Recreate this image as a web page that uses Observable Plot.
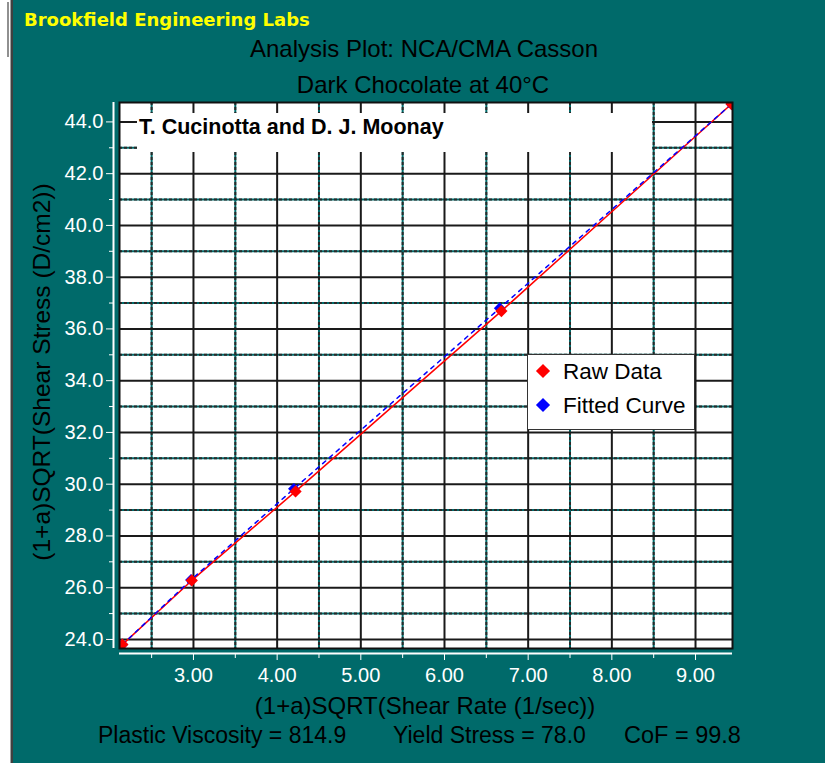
<!DOCTYPE html>
<html>
<head>
<meta charset="utf-8">
<script src="https://cdn.jsdelivr.net/npm/d3@7"></script>
<script src="https://cdn.jsdelivr.net/npm/@observablehq/plot@0.6"></script>
<style>
  html, body { margin: 0; padding: 0; background: #ffffff; }
  #wrap { position: relative; width: 825px; height: 763px; background: #006a6a; overflow: hidden;
          font-family: "Liberation Sans", Arial, sans-serif; }
  .abs { position: absolute; white-space: pre; line-height: 1; }
  #chart { position: absolute; left: 0; top: 0; }
</style>
</head>
<body>
<div id="wrap">
  <div class="abs" style="left:0;top:0;width:10px;height:763px;background:#ffffff"></div>
  <div class="abs" style="left:10px;top:0;width:1px;height:763px;background:#a0a0a0"></div>
  <div class="abs" style="left:11px;top:0;width:2px;height:763px;background:#404040"></div>
  <div class="abs" style="left:7px;top:2px;width:2px;height:55px;background:#909090"></div>
  <div id="chart"></div>
  <div class="abs" style="left:24px;top:11px;font-family:'DejaVu Sans',sans-serif;font-size:18px;font-weight:bold;color:#ffff00">Brookfield Engineering Labs</div>
  <div class="abs" style="left:124px;width:600px;text-align:center;top:37px;font-size:24px;color:#000">Analysis Plot: NCA/CMA Casson</div>
  <div class="abs" style="left:123px;width:600px;text-align:center;top:73px;font-size:24px;color:#000">Dark Chocolate at 40°C</div>
  <div class="abs" style="left:137px;top:113px;width:515px;height:39px;background:#ffffff"></div>
  <div class="abs" style="left:139px;top:117px;font-size:21.5px;font-weight:bold;color:#000">T. Cucinotta and D. J. Moonay</div>
  <div class="abs" style="left:527px;top:354px;width:166px;height:74px;background:#ffffff;border:1px solid #333"></div>
  <div class="abs" style="left:538px;top:366px;width:10px;height:10px;background:#ff0000;transform:rotate(45deg)"></div>
  <div class="abs" style="left:538px;top:400px;width:10px;height:10px;background:#0000ff;transform:rotate(45deg)"></div>
  <div class="abs" style="left:563px;top:361px;font-size:22.5px;color:#000">Raw Data</div>
  <div class="abs" style="left:563px;top:395px;font-size:22.5px;color:#000">Fitted Curve</div>
  <div class="abs" style="left:125px;width:600px;text-align:center;top:694px;font-size:24px;color:#000">(1+a)SQRT(Shear Rate (1/sec))</div>
  <div class="abs" style="left:-208px;width:500px;text-align:center;top:360px;height:24px;font-size:24.5px;color:#000;transform:rotate(-90deg)">(1+a)SQRT(Shear Stress (D/cm2))</div>
  <div class="abs" style="left:98px;top:724px;font-size:23px;color:#000">Plastic Viscosity = 814.9</div>
  <div class="abs" style="left:393px;top:724px;font-size:23px;color:#000">Yield Stress = 78.0</div>
  <div class="abs" style="left:624px;top:724px;font-size:23.5px;color:#000">CoF = 99.8</div>
</div>
<script>
// ---- data ----
const rawX = [2.15, 2.98, 4.22, 6.68, 9.43];
const rawY = [23.80, 26.28, 29.72, 36.69, 44.69];
const fitX = [2.15, 2.97, 4.20, 6.66, 9.43];
const fitY = [23.80, 26.30, 29.82, 36.80, 44.69];
const xMajor = [3, 4, 5, 6, 7, 8, 9];
const xMinor = [2.5, 3.5, 4.5, 5.5, 6.5, 7.5, 8.5];
const yMajor = [24, 26, 28, 30, 32, 34, 36, 38, 40, 42, 44];
const yMinor = [25, 27, 29, 31, 33, 35, 37, 39, 41, 43];
const xDomain = [2.116, 9.442];
const yDomain = [23.65, 44.75];

const raw = rawX.map((x, i) => ({x, y: rawY[i]}));
const fit = fitX.map((x, i) => ({x, y: fitY[i]}));

const TEAL = "#006a6a";
const plot = Plot.plot({
  width: 825,
  height: 763,
  marginLeft: 119,
  marginRight: 93,
  marginTop: 102,
  marginBottom: 115,
  x: {domain: xDomain},
  y: {domain: yDomain},
  style: {background: "transparent", fontFamily: "Liberation Sans, Arial, sans-serif", fontSize: "20px", overflow: "visible"},
  marks: [
    Plot.frame({fill: "white"}),
    Plot.ruleY(yMinor, {stroke: TEAL, strokeWidth: 2}),
    Plot.ruleY(yMinor, {stroke: "#2a2a2a", strokeWidth: 2, strokeDasharray: "3,2"}),
    Plot.ruleX(xMinor, {stroke: TEAL, strokeWidth: 2}),
    Plot.ruleX(xMinor, {stroke: "#2a2a2a", strokeWidth: 2, strokeDasharray: "3,2"}),
    Plot.ruleY(yMajor, {stroke: "#1a1a1a", strokeWidth: 2}),
    Plot.ruleX(xMajor, {stroke: "#1a1a1a", strokeWidth: 2}),
    Plot.dot(fit, {x: "x", y: "y", symbol: "diamond2", r: 5.3, fill: "#0000ff", clip: "frame"}),
    Plot.line(raw, {x: "x", y: "y", stroke: "#ff0000", strokeWidth: 1.5}),
    Plot.line(fit, {x: "x", y: "y", stroke: "#0000ff", strokeWidth: 1.5, strokeDasharray: "4,5"}),
    Plot.dot(raw, {x: "x", y: "y", symbol: "diamond2", r: 5.5, fill: "#ff0000", clip: "frame"}),
    Plot.frame({stroke: "#111", strokeWidth: 2}),
    // axis lines
    Plot.ruleX([xDomain[0]], {dx: -6, stroke: "white", strokeWidth: 2}),
    Plot.ruleY([yDomain[0]], {dy: 5, stroke: "white", strokeWidth: 2}),
    // y axis
    Plot.axisY(yMajor, {anchor: "left", tickFormat: d => d.toFixed(1), tickSize: 7, tickPadding: 3, dx: -6, color: "white", fontSize: 20, label: null}),
    Plot.axisY(yMinor, {anchor: "left", tickFormat: () => "", tickSize: 4, dx: -6, color: "white", label: null}),
    // x axis
    Plot.axisX(xMajor, {anchor: "bottom", tickFormat: d => d.toFixed(2), tickSize: 7, tickPadding: 7, dy: 5, color: "white", fontSize: 20, label: null}),
    Plot.axisX(xMinor, {anchor: "bottom", tickFormat: () => "", tickSize: 5, dy: 5, color: "white", label: null})
  ]
});
document.getElementById("chart").appendChild(plot);
</script>
</body>
</html>
